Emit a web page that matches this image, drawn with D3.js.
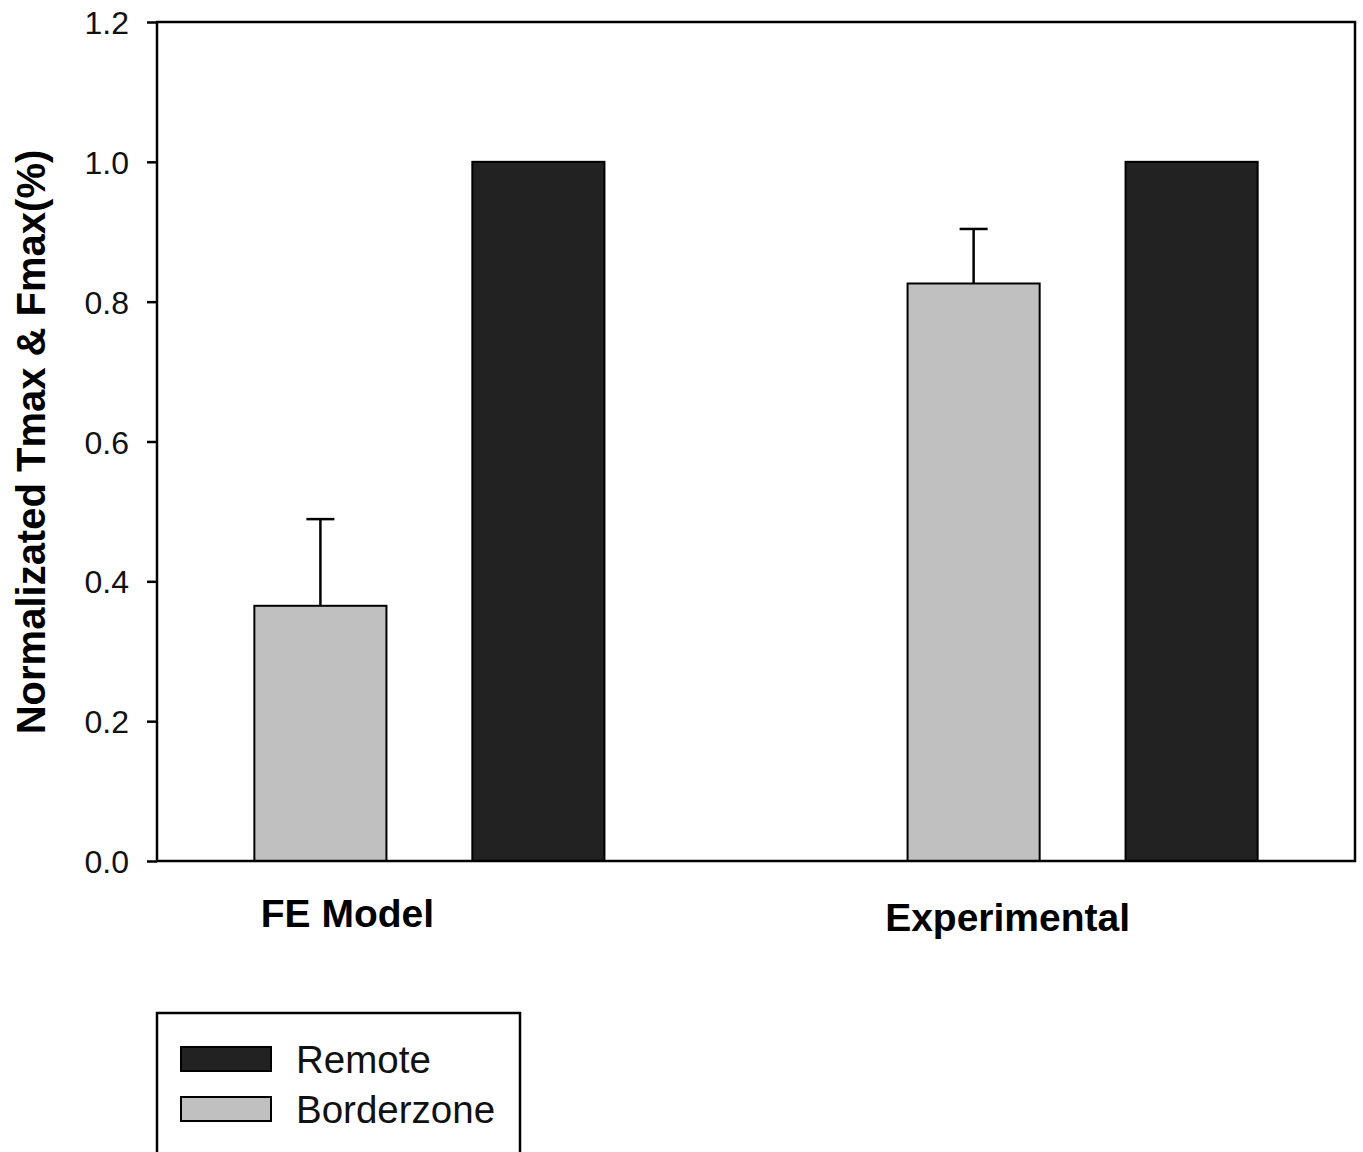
<!DOCTYPE html>
<html>
<head>
<meta charset="utf-8">
<script src="https://cdn.jsdelivr.net/npm/d3@7"></script>
<style>
  body { margin: 0; background: #fff; }
  text { font-family: Arial, "Liberation Sans", sans-serif; }
</style>
</head>
<body>
<svg width="1363" height="1152"></svg>
<script>
// values
var groups = ["FE Model", "Experimental"];
var series = ["Borderzone", "Remote"];
var borderzone = [0.365, 0.826];
var borderzoneErr = [0.124, 0.078];
var remote = [1.0, 1.0];
var yTicks = [0, 0.2, 0.4, 0.6, 0.8, 1.0, 1.2];
var colors = { Borderzone: "#c0c0c0", Remote: "#222222" };

var svg = d3.select("svg");

// plot box ("top" would clash with window.top)
var plotLeft = 157, plotRight = 1355, plotTop = 22, plotBottom = 861;

var y = d3.scaleLinear().domain([0, 1.2]).range([plotBottom, plotTop]);

var x0 = d3.scaleBand().domain(groups).range([plotLeft, plotRight])
    .paddingInner(0.4).paddingOuter(0.117);
var x1 = d3.scaleBand().domain(series).range([0, x0.bandwidth()])
    .paddingInner(0.394).paddingOuter(0.096);

var data = groups.map(function(g, i) {
  return { group: g, values: [
    { key: "Borderzone", value: borderzone[i], err: borderzoneErr[i] },
    { key: "Remote", value: remote[i], err: 0 }
  ]};
});

// bars
var g = svg.selectAll(".grp")
    .data(data)
    .enter().append("g")
    .attr("class", "grp")
    .attr("transform", function(d) { return "translate(" + x0(d.group) + ",0)"; });

g.selectAll("rect")
    .data(function(d) { return d.values; })
    .enter().append("rect")
    .attr("x", function(d) { return x1(d.key); })
    .attr("y", function(d) { return y(d.value); })
    .attr("width", x1.bandwidth())
    .attr("height", function(d) { return y(0) - y(d.value); })
    .attr("fill", function(d) { return colors[d.key]; })
    .attr("stroke", "#000")
    .attr("stroke-width", 2);

// error bars (upper only)
var eb = g.selectAll(".err")
    .data(function(d) { return d.values.filter(function(v) { return v.err > 0; }); })
    .enter().append("g").attr("class", "err");

eb.append("line")
    .attr("x1", function(d) { return x1(d.key) + x1.bandwidth() / 2; })
    .attr("x2", function(d) { return x1(d.key) + x1.bandwidth() / 2; })
    .attr("y1", function(d) { return y(d.value); })
    .attr("y2", function(d) { return y(d.value + d.err); })
    .attr("stroke", "#000").attr("stroke-width", 2.5);

eb.append("line")
    .attr("x1", function(d) { return x1(d.key) + x1.bandwidth() / 2 - 14; })
    .attr("x2", function(d) { return x1(d.key) + x1.bandwidth() / 2 + 14; })
    .attr("y1", function(d) { return y(d.value + d.err); })
    .attr("y2", function(d) { return y(d.value + d.err); })
    .attr("stroke", "#000").attr("stroke-width", 2.5);

// frame
svg.append("rect")
    .attr("x", plotLeft).attr("y", plotTop)
    .attr("width", plotRight - plotLeft).attr("height", plotBottom - plotTop)
    .attr("fill", "none").attr("stroke", "#000").attr("stroke-width", 2.5);

// y axis
var yAxis = svg.append("g")
    .attr("transform", "translate(" + plotLeft + ",0)")
    .call(d3.axisLeft(y).tickValues(yTicks).tickFormat(d3.format(".1f"))
      .tickSize(10).tickPadding(18));
yAxis.select(".domain").remove();
yAxis.selectAll(".tick line").attr("stroke", "#000").attr("stroke-width", 2.5);
yAxis.selectAll(".tick text")
    .attr("font-size", 32).attr("font-family", "Arial, 'Liberation Sans', sans-serif")
    .attr("fill", "#111").attr("dy", "0.36em");

// y label
svg.append("text")
    .attr("transform", "translate(45,442) rotate(-90)")
    .attr("text-anchor", "middle")
    .attr("font-size", 40).attr("font-weight", "bold")
    .text("Normalizated Tmax & Fmax(%)");

// category labels
svg.selectAll(".cat")
    .data(groups)
    .enter().append("text")
    .attr("class", "cat")
    .attr("x", function(d, i) { return x0(d) + x0.bandwidth() / 2 - (i === 0 ? 82 : 75); })
    .attr("y", function(d, i) { return i === 0 ? 927 : 931; })
    .attr("text-anchor", "middle")
    .attr("font-size", 39).attr("font-weight", "bold")
    .text(function(d) { return d; });

// legend
svg.append("rect")
    .attr("x", 157).attr("y", 1013).attr("width", 363).attr("height", 160)
    .attr("fill", "none").attr("stroke", "#000").attr("stroke-width", 2.5);

var legendItems = ["Remote", "Borderzone"];
var leg = svg.selectAll(".leg")
    .data(legendItems)
    .enter().append("g")
    .attr("class", "leg")
    .attr("transform", function(d, i) { return "translate(181," + (1047 + i * 50) + ")"; });

leg.append("rect")
    .attr("width", 90).attr("height", 24)
    .attr("fill", function(d) { return colors[d]; })
    .attr("stroke", "#000").attr("stroke-width", 2);

leg.append("text")
    .attr("x", 115).attr("y", 26)
    .attr("font-size", 38.5)
    .attr("fill", "#111")
    .text(function(d) { return d; });
</script>
</body>
</html>
